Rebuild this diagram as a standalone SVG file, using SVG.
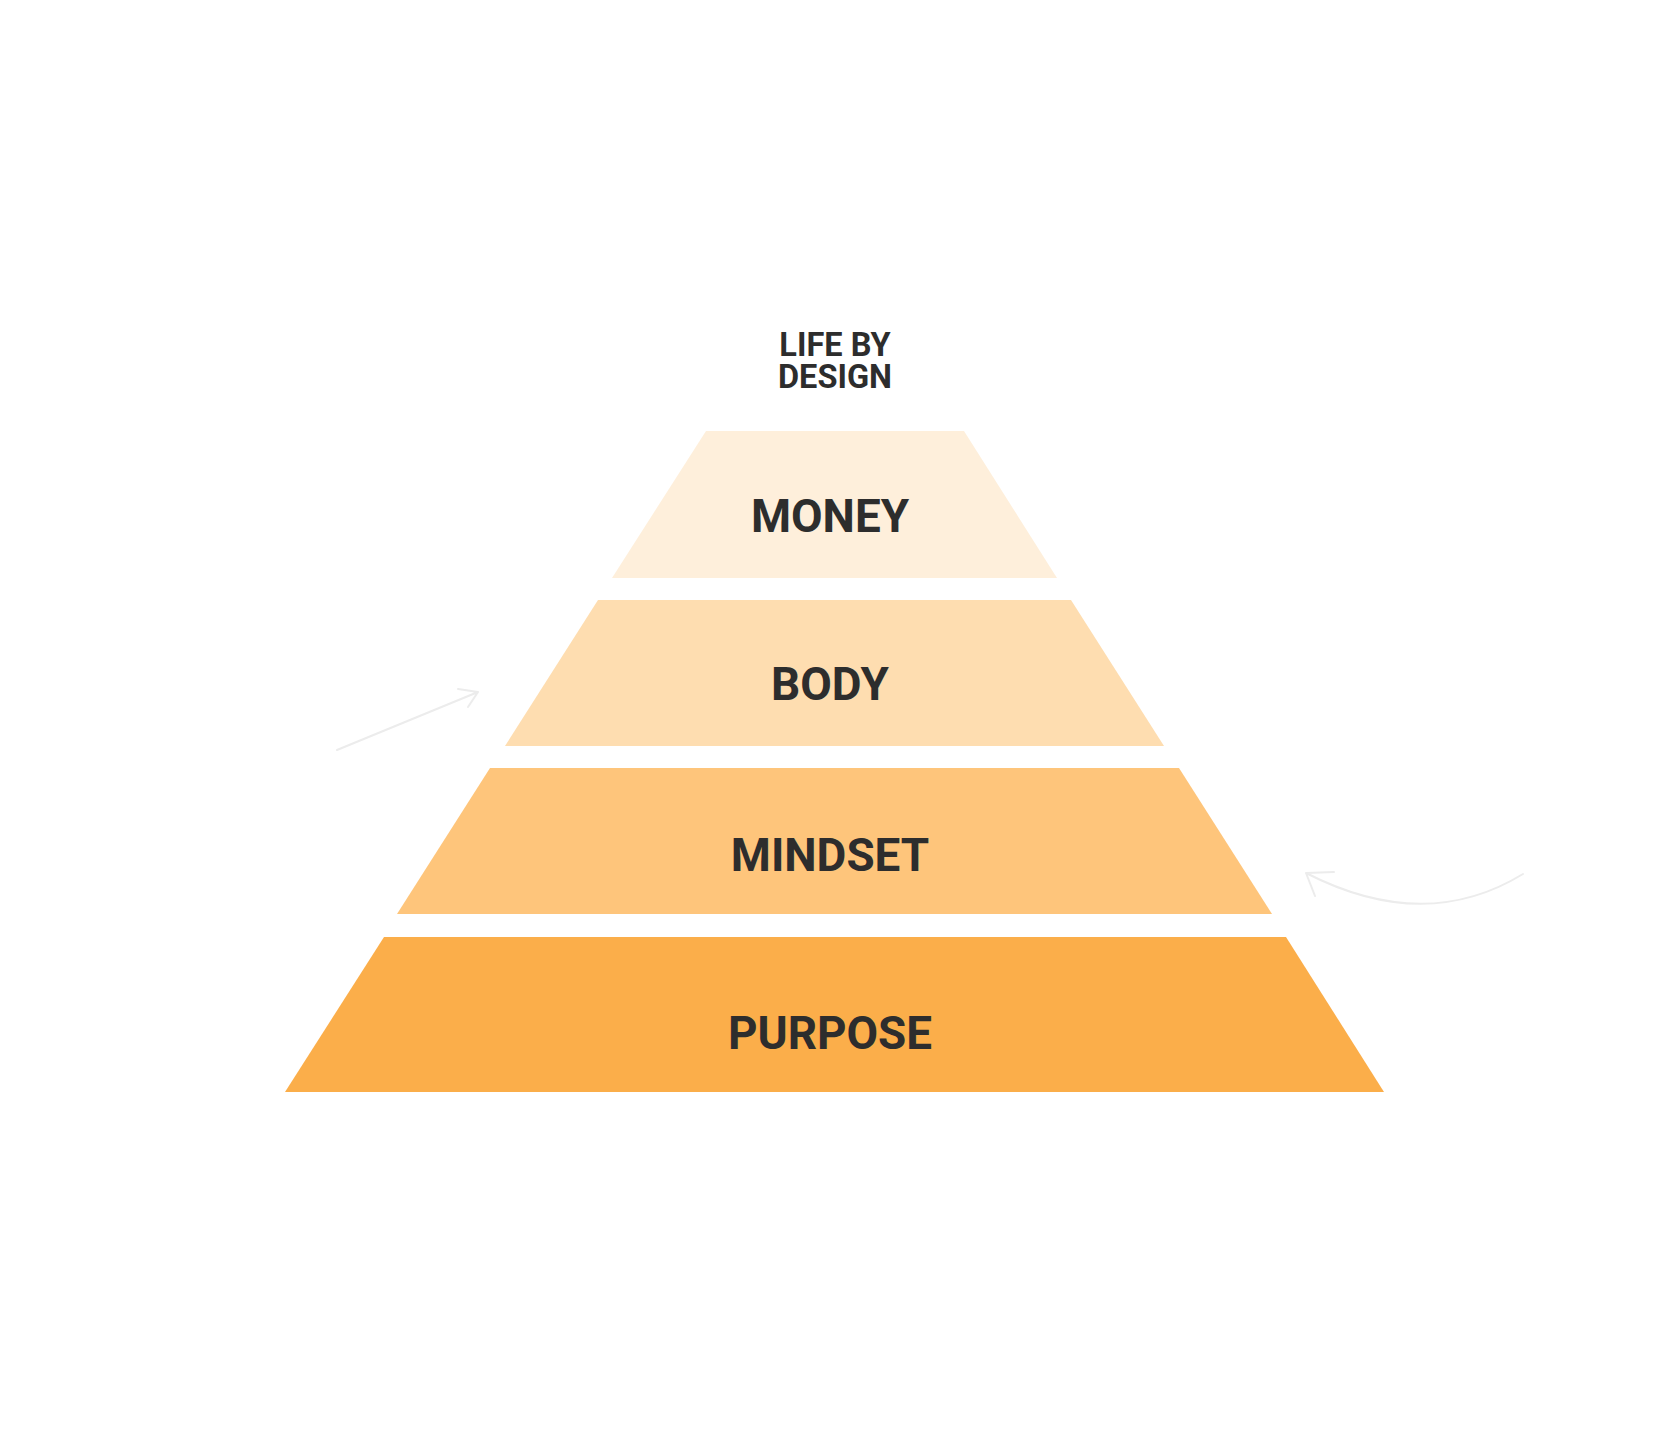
<svg xmlns="http://www.w3.org/2000/svg" width="1670" height="1440" viewBox="0 0 1670 1440">
<style>
.lbl{font-family:Roboto,"Liberation Sans",sans-serif;font-weight:700;fill:#2d2d2d;text-anchor:middle}
.big{font-size:45.8px}
.title{font-size:32.5px}
.arr{fill:none;stroke:#ececec;stroke-width:2;stroke-linecap:round;stroke-linejoin:round}
</style>
<rect width="1670" height="1440" fill="#ffffff"/>
<g id="title"><text class="lbl title" x="835" y="355.5">LIFE BY</text><text class="lbl title" x="835" y="388">DESIGN</text></g>
<g id="money"><polygon points="706,431 964,431 1057,578 612,578" fill="#feefdb"/><text class="lbl big" x="830" y="532">MONEY</text></g>
<g id="body"><polygon points="598,600 1071,600 1164,746 505,746" fill="#feddb0"/><text class="lbl big" x="830" y="700">BODY</text></g>
<g id="mindset"><polygon points="490,768 1179,768 1272,914 397,914" fill="#fec57b"/><text class="lbl big" x="830" y="871">MINDSET</text></g>
<g id="purpose"><polygon points="384,937 1286,937 1384,1092 285,1092" fill="#fbae4a"/><text class="lbl big" x="830" y="1049">PURPOSE</text></g>
<g id="connectors">
<path class="arr" d="M337,750 L478,692 M458,689 L478,692 L468,707"/>
<path class="arr" d="M1523,874 Q1425,934 1306,873 M1334,872 L1306,873 L1315,896"/>
</g>
</svg>
